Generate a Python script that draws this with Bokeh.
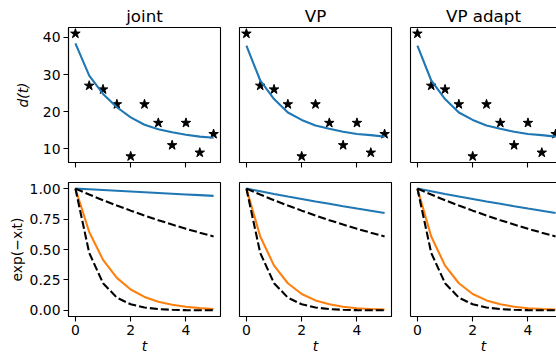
from bokeh.plotting import figure
from bokeh.layouts import gridplot
from bokeh.models import FixedTicker, LinearAxis
from bokeh.embed import file_html
from bokeh.resources import INLINE

# ---- data ----
t = [0.0, 0.5, 1.0, 1.5, 2.0, 2.5, 3.0, 3.5, 4.0, 4.5, 5.0]
d_obs = [41, 27, 26, 22, 8, 22, 17, 11, 17, 9, 14]
fit_joint = [38.4, 29.7, 24.8, 21.2, 18.5, 16.5, 15.3, 14.5, 13.8, 13.3, 13.0]
fit_vp = [37.8, 28.4, 23.4, 19.8, 17.8, 16.3, 15.4, 14.6, 14.0, 13.7, 13.3]
fit_vpa = [37.8, 28.4, 23.4, 19.8, 17.8, 16.3, 15.4, 14.6, 14.0, 13.7, 13.3]

true_slow = [1.0, 0.951, 0.905, 0.861, 0.819, 0.779, 0.741, 0.705, 0.670, 0.638, 0.607]
true_fast = [1.0, 0.472, 0.223, 0.105, 0.050, 0.024, 0.011, 0.005, 0.002, 0.001, 0.001]
joint_slow = [1.0, 0.994, 0.988, 0.982, 0.976, 0.970, 0.964, 0.958, 0.952, 0.946, 0.940]
joint_fast = [1.0, 0.644, 0.415, 0.267, 0.172, 0.111, 0.071, 0.046, 0.030, 0.019, 0.012]
vp_slow = [1.0, 0.978, 0.956, 0.935, 0.915, 0.894, 0.875, 0.855, 0.836, 0.818, 0.800]
vp_fast = [1.0, 0.607, 0.368, 0.223, 0.135, 0.082, 0.050, 0.030, 0.018, 0.011, 0.007]
vpa_slow = [1.0, 0.978, 0.956, 0.935, 0.915, 0.894, 0.875, 0.855, 0.836, 0.818, 0.800]
vpa_fast = [1.0, 0.607, 0.368, 0.223, 0.135, 0.082, 0.050, 0.030, 0.018, 0.011, 0.007]

titles = ["joint", "VP", "VP adapt"]
x_ticks = [0, 2, 4]
x_tick_labels = ["0", "2", "4"]
d_ticks = [10, 20, 30, 40]
d_tick_labels = ["10", "20", "30", "40"]
e_ticks = [0.0, 0.25, 0.5, 0.75, 1.0]
e_tick_labels = ["0.00", "0.25", "0.50", "0.75", "1.00"]

BLUE = "#1f77b4"
ORANGE = "#ff7f0e"
FONT = "DejaVu Sans"
TICK_FS = "13.9px"
LW = 2.1
SPINE_W = 1.1

FRAME_W = 152
PX_PER_UNIT = FRAME_W / 5.5


def style_axis(ax, ticks, labels, show_labels):
    ax.ticker = FixedTicker(ticks=ticks)
    ax.minor_tick_line_color = None
    ax.major_tick_in = 0
    ax.major_tick_out = 5
    ax.major_tick_line_color = "black"
    ax.major_tick_line_width = SPINE_W
    ax.axis_line_color = "black"
    ax.axis_line_width = SPINE_W
    ax.major_label_text_font = FONT
    ax.major_label_text_color = "black"
    ax.major_label_standoff = 3
    if show_labels:
        ax.major_label_overrides = {tk: lb for tk, lb in zip(ticks, labels)}
        ax.major_label_text_font_size = TICK_FS
    else:
        ax.major_label_overrides = {tk: "" for tk in ticks}
        ax.major_label_text_font_size = "0px"
        ax.major_label_standoff = 0


def bare_axis(ax):
    ax.ticker = FixedTicker(ticks=[])
    ax.minor_tick_line_color = None
    ax.major_tick_line_color = None
    ax.major_tick_in = 0
    ax.major_tick_out = 0
    ax.major_label_text_font_size = "0px"
    ax.major_label_standoff = 0
    ax.axis_line_color = "black"
    ax.axis_line_width = SPINE_W


def make_panel(col, row):
    top = row == 0
    last = col == 2
    if col == 0:
        width, mbl, mbr = 229, 68, 9
    elif col == 1:
        width, mbl, mbr = 171, 10, 9
    else:
        width, mbl, mbr = 156, 10, 0
    if top:
        height, mbt, mbb = 172, 27, 10
        yr = (6.35, 42.65)
    else:
        height, mbt, mbb = 184, 10, 40
        yr = (-0.05, 1.05)
    frame_w = width - mbl - mbr
    x_end = -0.25 + frame_w / PX_PER_UNIT
    p = figure(width=width, height=height, x_range=(-0.25, x_end), y_range=yr,
               output_backend="svg", toolbar_location=None,
               min_border_left=mbl, min_border_right=mbr,
               min_border_top=mbt, min_border_bottom=mbb)
    p.xgrid.visible = False
    p.ygrid.visible = False
    p.background_fill_color = "white"
    p.border_fill_color = "white"
    if last:
        p.outline_line_color = None
    else:
        p.outline_line_color = "black"
        p.outline_line_width = SPINE_W
        p.outline_line_alpha = 1.0

    if top:
        p.title.text = titles[col]
        p.title.align = "center"
        p.title.text_font = FONT
        p.title.text_font_size = "16.7px"
        p.title.text_font_style = "normal"
        p.title.text_color = "black"
        p.title.standoff = 4
        if last:
            p.title.offset = 3
    else:
        p.title.visible = False

    # x axis
    style_axis(p.xaxis[0], x_ticks, x_tick_labels, show_labels=not top)
    if not top:
        p.xaxis.axis_label = "t"
        p.xaxis.axis_label_text_font = FONT
        p.xaxis.axis_label_text_font_size = TICK_FS
        p.xaxis.axis_label_text_font_style = "italic"
        p.xaxis.axis_label_text_color = "black"
        p.xaxis.axis_label_standoff = 0

    # y axis
    if col == 0:
        if top:
            style_axis(p.yaxis[0], d_ticks, d_tick_labels, True)
            p.yaxis.axis_label = "d(t)"
            p.yaxis.axis_label_text_font_style = "italic"
            p.yaxis.axis_label_standoff = 9
        else:
            style_axis(p.yaxis[0], e_ticks, e_tick_labels, True)
            p.yaxis.axis_label = "exp(\u2212x\u1d62t)"
            p.yaxis.axis_label_text_font_style = "normal"
            p.yaxis.axis_label_standoff = 2
        p.yaxis.axis_label_text_font = FONT
        p.yaxis.axis_label_text_font_size = TICK_FS
        p.yaxis.axis_label_text_color = "black"
    elif last:
        bare_axis(p.yaxis[0])
        above = LinearAxis()
        bare_axis(above)
        p.add_layout(above, "above")
    else:
        p.yaxis.visible = False
    return p


top_fits = [fit_joint, fit_vp, fit_vpa]
bottom_est = [(joint_slow, joint_fast), (vp_slow, vp_fast), (vpa_slow, vpa_fast)]

top_row = []
bottom_row = []
for c in range(3):
    p = make_panel(c, 0)
    p.scatter(t, d_obs, marker="star", size=10, color="black")
    p.line(t, top_fits[c], line_color=BLUE, line_width=LW)
    top_row.append(p)

    q = make_panel(c, 1)
    slow, fast = bottom_est[c]
    q.line(t, slow, line_color=BLUE, line_width=LW)
    q.line(t, fast, line_color=ORANGE, line_width=LW)
    q.line(t, true_slow, line_color="black", line_width=LW, line_dash="8 3")
    q.line(t, true_fast, line_color="black", line_width=LW, line_dash="8 3")
    bottom_row.append(q)

grid = gridplot([top_row, bottom_row], toolbar_location=None)

open("out.html", "w").write(file_html(grid, INLINE))
